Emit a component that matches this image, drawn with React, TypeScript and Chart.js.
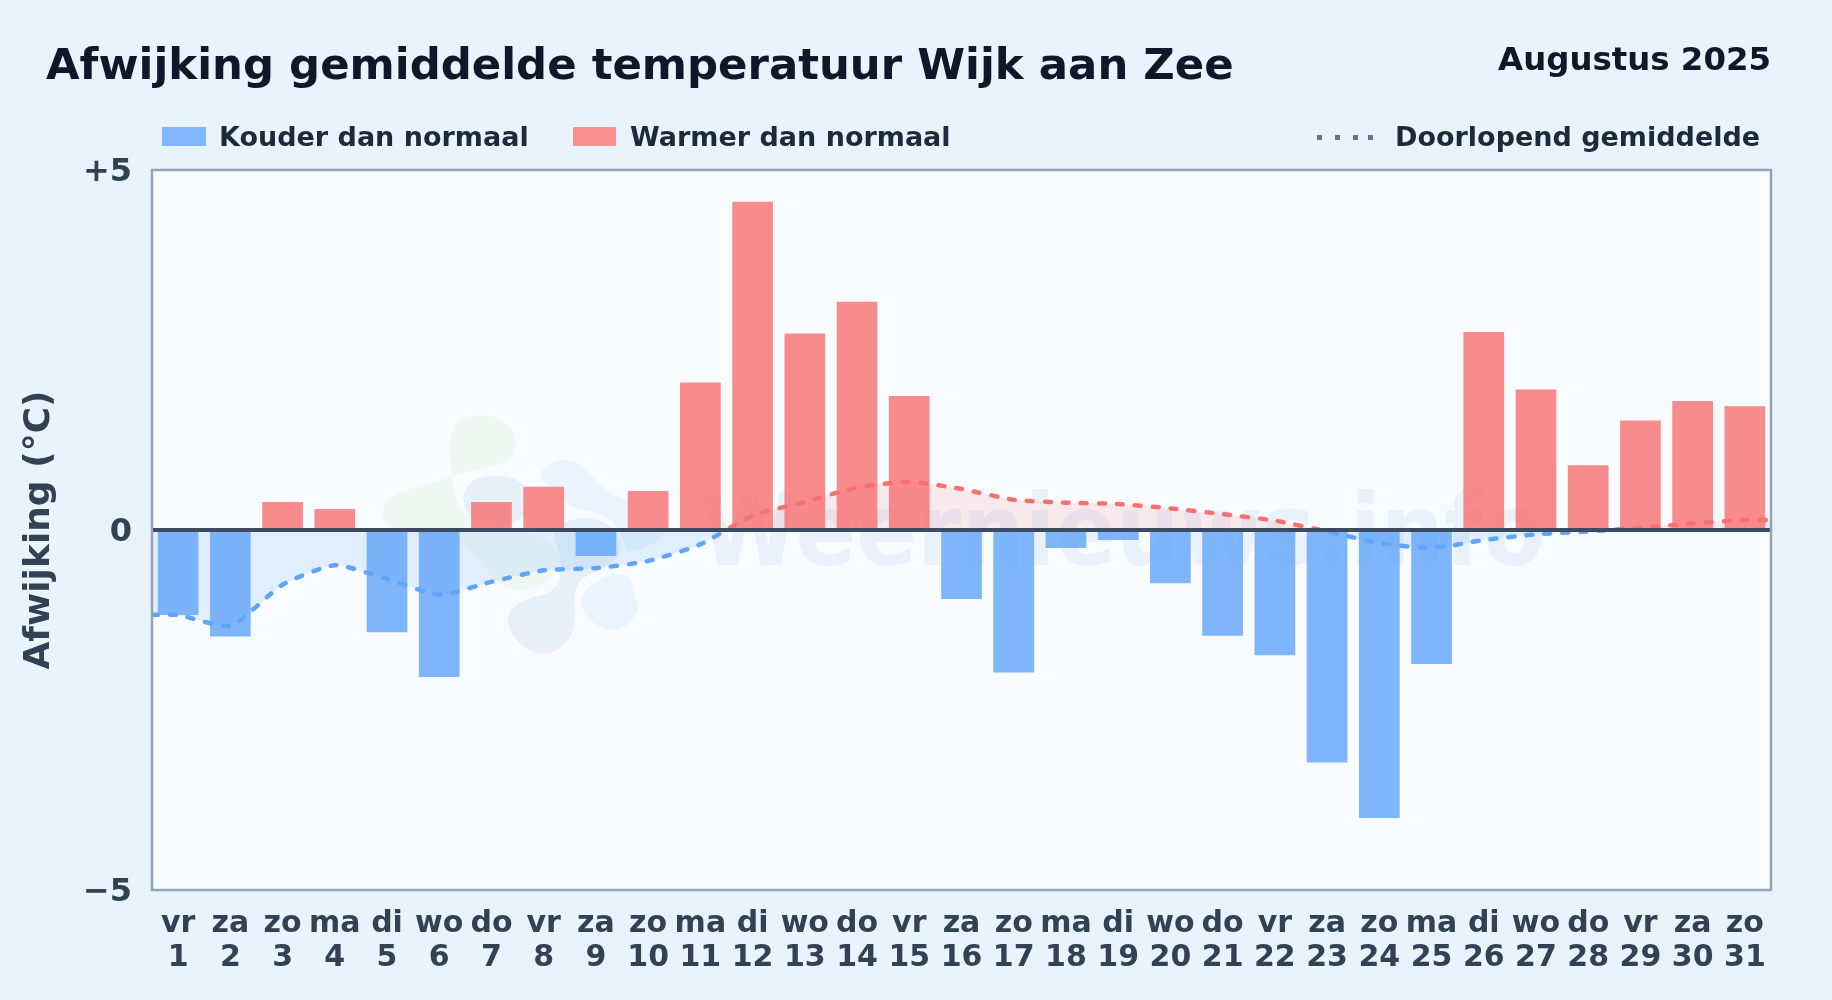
import React, { useEffect, useRef } from "react";
import { Chart, registerables } from "chart.js";

Chart.register(...registerables);

const FONT = '"DejaVu Sans", sans-serif';

const titleText = "Afwijking gemiddelde temperatuur Wijk aan Zee";
const periodText = "Augustus 2025";
const coldLabel = "Kouder dan normaal";
const warmLabel = "Warmer dan normaal";
const meanLabel = "Doorlopend gemiddelde";
const yAxisTitle = "Afwijking (°C)";
const watermarkText = "Weernieuws.info";

const days = [1, 2, 3, 4, 5, 6, 7, 8, 9, 10, 11, 12, 13, 14, 15, 16, 17, 18, 19, 20, 21, 22, 23, 24, 25, 26, 27, 28, 29, 30, 31];
const weekdays = ["vr", "za", "zo", "ma", "di", "wo", "do", "vr", "za", "zo", "ma", "di", "wo", "do", "vr", "za", "zo", "ma", "di", "wo", "do", "vr", "za", "zo", "ma", "di", "wo", "do", "vr", "za", "zo"];
const coldValues = [-1.18, -1.48, null, null, -1.42, -2.04, null, null, -0.36, null, null, null, null, null, null, -0.96, -1.98, -0.25, -0.14, -0.74, -1.47, -1.74, -3.23, -4.0, -1.86, null, null, null, null, null, null];
const warmValues = [null, null, 0.39, 0.29, null, null, 0.39, 0.6, null, 0.54, 2.05, 4.56, 2.73, 3.17, 1.86, null, null, null, null, null, null, null, null, null, null, 2.75, 1.95, 0.9, 1.52, 1.79, 1.72];
const meanX = [0.5, 1, 2, 3, 4, 5, 6, 7, 8, 9, 10, 11, 12, 13, 14, 15, 16, 17, 18, 19, 20, 21, 22, 23, 24, 25, 26, 27, 28, 29, 30, 31, 31.5];
const meanValues = [-1.18, -1.18, -1.33, -0.76, -0.49, -0.68, -0.9, -0.72, -0.56, -0.53, -0.43, -0.2, 0.2, 0.39, 0.59, 0.67, 0.57, 0.42, 0.38, 0.36, 0.3, 0.22, 0.13, -0.02, -0.18, -0.25, -0.14, -0.06, -0.02, 0.03, 0.09, 0.14, 0.14];
const yTicks = [-5, 0, 5];
const yTickLabels = ["−5", "0", "+5"];

// Watermark logo outline (decoration, zoom-derived page pixels)
const logoBlobs: { color: string; pts: number[][] }[] = [
  { color: "rgba(170,215,120,0.08)", pts: [[265,120],[300,70],[375,55],[450,85],[475,150],[440,205],[340,225],[275,240],[215,270],[110,290],[60,340],[80,400],[200,430],[300,440],[370,510],[410,570],[490,595],[570,560],[610,500],[580,440],[480,400],[330,380],[280,310]] },
  { color: "rgba(90,140,190,0.10)", pts: [[305,300],[340,250],[420,238],[490,260],[520,320],[470,390],[380,400],[320,360]] },
  { color: "rgba(110,190,250,0.10)", pts: [[530,235],[590,190],[660,200],[710,260],[770,310],[880,340],[930,380],[900,440],[800,480],[790,430],[750,360],[640,340],[590,300]] },
  { color: "rgba(90,140,190,0.10)", pts: [[570,400],[640,370],[720,370],[780,420],[780,490],[700,530],[640,570],[650,700],[600,770],[520,780],[450,720],[440,650],[500,610],[590,590],[610,500]] },
  { color: "rgba(110,190,250,0.10)", pts: [[660,600],[720,550],[810,530],[820,590],[840,640],[800,700],[730,705],[670,660]] },
];

const backgroundPlugin = {
  id: "plotBackdrop",
  beforeDatasetsDraw(chart: any) {
    const { ctx, chartArea: a } = chart;
    ctx.save();
    ctx.beginPath();
    ctx.rect(a.left, a.top, a.width, a.height);
    ctx.clip();
    for (const blob of logoBlobs) {
      const p = blob.pts.map(([x, y]) => [360 + x / 3, 395 + y / 3]);
      ctx.beginPath();
      const n = p.length;
      ctx.moveTo((p[n - 1][0] + p[0][0]) / 2, (p[n - 1][1] + p[0][1]) / 2);
      for (let i = 0; i < n; i++) {
        const q = p[(i + 1) % n];
        ctx.quadraticCurveTo(p[i][0], p[i][1], (p[i][0] + q[0]) / 2, (p[i][1] + q[1]) / 2);
      }
      ctx.closePath();
      ctx.fillStyle = blob.color;
      ctx.fill();
    }
    ctx.translate(700, 565);
    ctx.scale(0.895, 1);
    ctx.fillStyle = "rgba(59,120,200,0.075)";
    ctx.font = `bold 100px ${FONT}`;
    ctx.textAlign = "left";
    ctx.textBaseline = "alphabetic";
    ctx.fillText(watermarkText, 0, 0);
    ctx.restore();
  },
  beforeDraw(chart: any) {
    const { ctx, chartArea: a } = chart;
    ctx.save();
    ctx.fillStyle = "#f8fbff";
    ctx.fillRect(a.left, a.top, a.width, a.height);
    ctx.restore();
  },
  afterDraw(chart: any) {
    const { ctx, chartArea: a } = chart;
    ctx.save();
    ctx.strokeStyle = "#94a3b8";
    ctx.lineWidth = 2.5;
    ctx.strokeRect(a.left, a.top, a.width, a.height);
    ctx.restore();
  },
};

function meanStroke(c: any) {
  const { chart } = c;
  const a = chart.chartArea;
  if (!a) return "#60a5fa";
  const y = chart.scales.y.getPixelForValue(0);
  const g = chart.ctx.createLinearGradient(0, a.top, 0, a.bottom);
  const s = (y - a.top) / (a.bottom - a.top);
  g.addColorStop(0, "#f87171");
  g.addColorStop(s, "#f87171");
  g.addColorStop(s, "#60a5fa");
  g.addColorStop(1, "#60a5fa");
  return g;
}

function Label({ text, x, right, baseline, size, color }: any) {
  const h = size * 1.2;
  const style: any = {
    position: "absolute",
    top: baseline - 0.346 * size - h / 2,
    lineHeight: `${h}px`,
    fontSize: size,
    fontWeight: 700,
    fontFamily: FONT,
    color,
    whiteSpace: "nowrap",
  };
  if (right !== undefined) style.right = right;
  else style.left = x;
  return <div style={style}>{text}</div>;
}

function Swatch({ x, w, color }: any) {
  return <div style={{ position: "absolute", left: x, top: 127, width: w, height: 19, background: color }} />;
}

export default function App() {
  const ref = useRef<HTMLCanvasElement>(null);
  useEffect(() => {
    document.body.style.margin = "0";
    const chart = new Chart(ref.current as HTMLCanvasElement, {
      type: "bar",
      data: {
        datasets: [
          {
            type: "line",
            label: meanLabel,
            data: meanX.map((x, i) => ({ x, y: meanValues[i] })),
            order: 0,
            borderColor: meanStroke,
            borderWidth: 4.5,
            borderDash: [6, 12],
            borderCapStyle: "round",
            tension: 0.2,
            pointRadius: 0,
            fill: { target: { value: 0 }, above: "rgba(248,113,113,0.13)", below: "rgba(96,165,250,0.15)" },
          },
          {
            label: coldLabel,
            data: days.map((x, i) => ({ x, y: coldValues[i] })),
            order: 1,
            backgroundColor: "rgba(96,165,250,0.8)",
            grouped: false,
            categoryPercentage: 1,
            barPercentage: 0.78,
          },
          {
            label: warmLabel,
            data: days.map((x, i) => ({ x, y: warmValues[i] })),
            order: 1,
            backgroundColor: "rgba(248,113,113,0.8)",
            grouped: false,
            categoryPercentage: 1,
            barPercentage: 0.78,
          },
        ] as any,
      },
      options: {
        responsive: false,
        animation: false,
        devicePixelRatio: 1,
        layout: { padding: { top: 170, right: 61, left: 0, bottom: 0 } },
        plugins: { legend: { display: false }, tooltip: { enabled: false } },
        scales: {
          x: {
            type: "linear",
            offset: false,
            min: 0.5,
            max: 31.5,
            grid: { display: false },
            border: { display: false },
            afterBuildTicks: (axis: any) => {
              axis.ticks = days.map((value) => ({ value }));
            },
            afterFit: (axis: any) => {
              axis.height = 110;
            },
            ticks: {
              autoSkip: false,
              maxRotation: 0,
              padding: 9,
              color: "#334155",
              font: { family: FONT, size: 30, weight: "bold", lineHeight: 1.133 },
              callback: (v: any) => [weekdays[Number(v) - 1], String(v)],
            },
          },
          y: {
            min: -5,
            max: 5,
            afterBuildTicks: (axis: any) => {
              axis.ticks = yTicks.map((value) => ({ value }));
            },
            afterFit: (axis: any) => {
              axis.width = 152;
            },
            border: { display: false },
            grid: {
              z: 1,
              drawTicks: false,
              color: (c: any) => (c.tick && c.tick.value === 0 ? "#3d4a5f" : "rgba(0,0,0,0)"),
              lineWidth: (c: any) => (c.tick && c.tick.value === 0 ? 4 : 0),
            },
            ticks: {
              padding: 20,
              color: "#334155",
              font: { family: FONT, size: 32, weight: "bold", lineHeight: "5px" },
              callback: (v: any) => ["", yTickLabels[yTicks.indexOf(Number(v))]],
            },
            title: {
              display: true,
              text: yAxisTitle,
              color: "#334155",
              font: { family: FONT, size: 36, weight: "bold" },
              padding: { top: 18, bottom: 0 },
            },
          },
        },
      },
      plugins: [backgroundPlugin],
    } as any);
    return () => chart.destroy();
  }, []);

  return (
    <div style={{ position: "absolute", left: 0, top: 0, width: 1832, height: 1000, overflow: "hidden", background: "#e9f3fc" }}>
      <canvas ref={ref} width={1832} height={1000} style={{ position: "absolute", left: 0, top: 0, display: "block" }} />
      <Label text={titleText} x={46} baseline={79} size={43.4} color="#0f172a" />
      <Label text={periodText} right={61} baseline={71} size={32.4} color="#0f172a" />
      <Swatch x={162} w={44} color="#81b6fc" />
      <Label text={coldLabel} x={219} baseline={147} size={27} color="#1e293b" />
      <Swatch x={573} w={43} color="#f99090" />
      <Label text={warmLabel} x={630} baseline={147} size={27} color="#1e293b" />
      {[1317, 1335, 1353, 1368].map((x) => (
        <div key={x} style={{ position: "absolute", left: x, top: 135, width: 5, height: 5, background: "#64748b" }} />
      ))}
      <Label text={meanLabel} x={1395} baseline={147} size={27} color="#1e293b" />
    </div>
  );
}
